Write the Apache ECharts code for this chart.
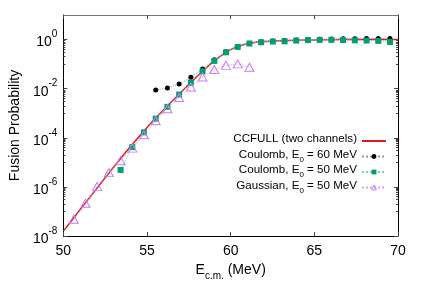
<!DOCTYPE html>
<html><head><meta charset="utf-8">
<script src="https://cdn.jsdelivr.net/npm/echarts@6/dist/echarts.min.js"></script>
<style>html,body{margin:0;padding:0;background:#fff}#c{width:425px;height:298px}</style>
</head><body><div id="c"></div>
<script>
// ---- data ----
const ccfullE = [50,51,52,53,54,55,56,57,58,58.5,59,59.5,60,60.5,61,61.5,62,63,64,65,66,67,68,69,70];
const ccfullP = [1.58e-8,1.17e-7,8.7e-7,6.3e-6,4.27e-5,2.63e-4,1.38e-3,6.76e-3,3.16e-2,6.6e-2,0.132,0.24,0.389,0.537,0.676,0.776,0.832,0.891,0.933,0.966,0.989,1.0,1.0,1.0,1.0];

const coul60E = [55.52,56.22,56.92,57.62,58.32,59.02,59.72,60.42,61.12,61.82,62.52,63.22,63.92,64.62,65.32,66.02,66.72,67.42,68.12,68.82,69.52];
const coul60P = [8.9e-3,1.07e-2,1.55e-2,2.9e-2,6.3e-2,0.151,0.316,0.513,0.708,0.81,0.87,0.91,0.95,1.0,1.02,1.05,1.07,1.07,1.1,1.1,1.1];

const coul50E = [53.42,54.12,54.82,55.52,56.22,56.92,57.62,58.32,59.02,59.72,60.42,61.12,61.82,62.52,63.22,63.92,64.62,65.32,66.02,66.72,67.42,68.12,68.82,69.52];
const coul50P = [4.9e-6,4.17e-5,1.66e-4,6.0e-4,1.82e-3,5.75e-3,1.74e-2,5.13e-2,0.135,0.302,0.5,0.69,0.776,0.83,0.85,0.91,0.95,0.97,0.97,0.96,0.93,0.91,0.88,0.8];

const gaussE = [50.62,51.32,52.02,52.72,53.42,54.12,54.82,55.52,56.22,56.92,57.62,58.32,59.02,59.72,60.42,61.12];
const gaussP = [4.8e-8,2.14e-7,1.05e-6,3.8e-6,1.17e-5,3.8e-5,1.32e-4,4.9e-4,1.51e-3,4.4e-3,1.17e-2,3.0e-2,6.0e-2,8.9e-2,0.102,0.074];

const seriesNames = ['CCFULL (two channels)','Coulomb, E0 = 60 MeV','Coulomb, E0 = 50 MeV','Gaussian, E0 = 50 MeV'];
const xTicks = [50,55,60,65,70];
const yMajor = [1e-8,1e-6,1e-4,1e-2,1];
const yMinor = [1e-9,2e-9,3e-9,4e-9,5e-9,6e-9,7e-9,8e-9,9e-9,
                1e-7,2e-7,3e-7,4e-7,5e-7,6e-7,7e-7,8e-7,9e-7,
                1e-5,2e-5,3e-5,4e-5,5e-5,6e-5,7e-5,8e-5,9e-5,
                1e-3,2e-3,3e-3,4e-3,5e-3,6e-3,7e-3,8e-3,9e-3,
                0.1,0.2,0.3,0.4,0.5,0.6,0.7,0.8,0.9];

const FONT = "'Liberation Sans', Arial, Helvetica, sans-serif";
const zip = (a, b) => a.map((v, i) => [v, b[i]]);

const chart = echarts.init(document.getElementById('c'), null, {renderer: 'canvas'});

const yBase = (pos, ticks, len, labels, lineColor) => ({
  type: 'log', logBase: 10, min: 1e-8, max: 10, position: pos,
  axisLine: {show: labels !== null, lineStyle: {color: lineColor || '#000', width: 1}},
  axisTick: {show: true, inside: true, length: len, customValues: ticks, lineStyle: {color: '#444'}},
  axisLabel: labels ? labels : {show: false},
  splitLine: {show: false}, minorTick: {show: false}
});

const LFS = 11.6;
const option = {
  animation: false,
  backgroundColor: '#fff',
  grid: {left: 63, right: 27, top: 15, bottom: 62, containLabel: false},
  xAxis: [
    {
      type: 'value', min: 50, max: 70, interval: 5, position: 'bottom',
      axisLine: {lineStyle: {color: '#000', width: 1}},
      axisTick: {inside: true, length: 4, customValues: xTicks, lineStyle: {color: '#444'}},
      axisLabel: {customValues: xTicks, fontSize: 14, color: '#000', fontFamily: FONT, margin: 8},
      splitLine: {show: false},
      name: '{t|E}{sub|c.m.}{t| (MeV)}', nameLocation: 'middle', nameGap: 23,
      nameTextStyle: {
        fontFamily: FONT, color: '#000',
        rich: {
          t: {fontSize: 14, fontFamily: FONT, color: '#000', verticalAlign: 'bottom', padding: [0,0,4,0]},
          sub: {fontSize: 10, fontFamily: FONT, color: '#000', verticalAlign: 'bottom'}
        }
      }
    },
    {
      type: 'value', min: 50, max: 70, interval: 5, position: 'top',
      axisLine: {lineStyle: {color: '#777', width: 1}},
      axisTick: {inside: true, length: 4, customValues: xTicks, lineStyle: {color: '#444'}},
      axisLabel: {show: false}, splitLine: {show: false}
    }
  ],
  yAxis: [
    Object.assign(yBase('left', yMajor, 4, {
      customValues: yMajor, margin: 6, fontFamily: FONT, color: '#000',
      formatter: v => '{b|10}{sup|' + Math.round(Math.log10(v)) + '}',
      rich: {
        b: {fontSize: 14, fontFamily: FONT, color: '#000', verticalAlign: 'bottom'},
        sup: {fontSize: 10, fontFamily: FONT, color: '#000', verticalAlign: 'bottom', padding: [0,0,10,0]}
      }
    }), {
      name: 'Fusion Probability', nameLocation: 'middle', nameGap: 41, nameRotate: 90,
      nameTextStyle: {fontSize: 14, fontFamily: FONT, color: '#000'}
    }),
    yBase('right', yMajor, 4, false),
    yBase('left', yMinor, 2, null),
    yBase('right', yMinor, 2, null)
  ],
  legend: {
    orient: 'vertical', right: 33, top: 128, align: 'right',
    itemWidth: 24, itemHeight: 6, itemGap: 0.5,
    data: [
      {name: seriesNames[0], itemStyle: {opacity: 0}},
      {name: seriesNames[1]},
      {name: seriesNames[2]},
      {name: seriesNames[3], itemStyle: {color: 'rgba(255,255,255,0)', borderColor: '#c77cf0', borderWidth: 1}}
    ],
    formatter: n => {
      const i = n.indexOf('E0');
      if (i < 0) return '{t|' + n + '}';
      return '{t|' + n.slice(0, i) + 'E}{sub|0}{t|' + n.slice(i + 2) + '}';
    },
    textStyle: {
      fontSize: LFS, fontFamily: FONT, color: '#000', lineHeight: 14,
      rich: {
        t: {fontSize: LFS, fontFamily: FONT, color: '#000', lineHeight: 14, verticalAlign: 'bottom', padding: [0,0,3,0]},
        sub: {fontSize: 8, fontFamily: FONT, color: '#000', lineHeight: 14, verticalAlign: 'bottom'}
      }
    }
  },
  series: [
    {
      name: seriesNames[0], type: 'line', data: zip(ccfullE, ccfullP),
      symbol: 'none', smooth: 0.3,
      lineStyle: {color: '#e31a1c', width: 1.5}, itemStyle: {color: '#e31a1c'}, z: 2
    },
    {
      name: seriesNames[1], type: 'line', data: zip(coul60E, coul60P),
      symbol: 'circle', symbolSize: 5,
      lineStyle: {color: '#9a9a9a', width: 1, type: 'dotted'}, itemStyle: {color: '#000'}, z: 3
    },
    {
      name: seriesNames[2], type: 'line', data: zip(coul50E, coul50P),
      symbol: 'rect', symbolSize: 6,
      lineStyle: {color: '#7fcfb8', width: 1, type: 'dotted'}, itemStyle: {color: '#009e73'}, z: 4
    },
    {
      name: seriesNames[3], type: 'line', data: zip(gaussE, gaussP),
      symbol: 'triangle', symbolSize: [9, 8],
      lineStyle: {color: '#d9a0f5', width: 1, type: 'dotted'},
      itemStyle: {color: 'rgba(255,255,255,0)', borderColor: '#c77cf0', borderWidth: 1}, z: 5
    }
  ]
};
chart.setOption(option);
</script>
</body></html>
